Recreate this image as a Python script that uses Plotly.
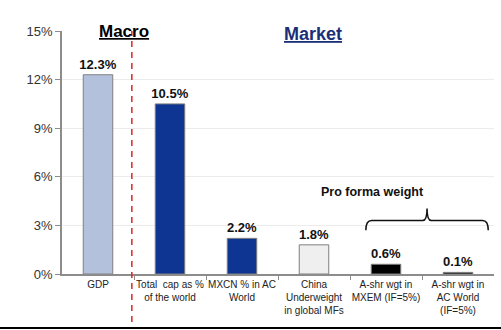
import plotly.graph_objects as go

categories = ["GDP", "Total  cap as %<br>of the world", "MXCN % in AC<br>World",
              "China<br>Underweight<br>in global MFs", "A-shr wgt in<br>MXEM (IF=5%)",
              "A-shr wgt in<br>AC World<br>(IF=5%)"]
values = [12.3, 10.5, 2.2, 1.8, 0.6, 0.1]
value_labels = ["12.3%", "10.5%", "2.2%", "1.8%", "0.6%", "0.1%"]
bar_colors = ["#b3c1dd", "#0e3591", "#0e3591", "#efefef", "#000000", "#000000"]
y_ticks = [0, 3, 6, 9, 12, 15]
y_tick_labels = ["0%", "3%", "6%", "9%", "12%", "15%"]

FONT = "Liberation Sans, Arial, sans-serif"
xpos = list(range(len(categories)))

fig = go.Figure()
fig.add_trace(go.Bar(
    x=xpos, y=values, width=0.41,
    marker=dict(color=bar_colors, line=dict(color="#7f7f7f", width=1)),
    text=value_labels, textposition="outside", cliponaxis=False, constraintext="none",
    textfont=dict(family=FONT, size=13, color="#111111", weight="bold"),
    hoverinfo="skip",
))

shapes = []
# red dashed divider
shapes.append(dict(type="line", xref="x", yref="paper", x0=0.47, x1=0.47, y0=-0.198, y1=1.0,
                   line=dict(color="#d62728", width=1.5, dash="6px,5px")))
# bottom black rule
shapes.append(dict(type="line", xref="paper", yref="paper", x0=-0.15, x1=1.02, y0=-0.222, y1=-0.222,
                   line=dict(color="#000000", width=2)))
# brace (data coords)
xl, xr, xm = 3.72, 5.42, 4.57
yb, yl, yt = 2.7, 3.3, 4.05
path = (f"M {xl},{yb} Q {xl},{yl} {xl+0.08},{yl} L {xm-0.06},{yl} "
        f"Q {xm},{yl} {xm},{yt} Q {xm},{yl} {xm+0.06},{yl} L {xr-0.08},{yl} Q {xr},{yl} {xr},{yb}")
shapes.append(dict(type="path", xref="x", yref="y", path=path, line=dict(color="#111111", width=1.5)))

annotations = [
    dict(text="<b><u>Macro</u></b>", xref="paper", yref="paper", x=(97-62)/432, y=(274-20)/243,
         showarrow=False, font=dict(family=FONT, size=17, color="#000000")),
    dict(text="<b><u>Market</u></b>", xref="paper", yref="paper", x=(313-62)/432, y=(274-22)/243,
         showarrow=False, font=dict(family=FONT, size=18, color="#1b2f78")),
    dict(text="<b>Pro forma weight</b>", xref="paper", yref="paper", x=(426-62)/432, y=(274-192)/243,
         showarrow=False, font=dict(family=FONT, size=12.5, color="#111111")),
]

fig.update_layout(
    width=501, height=330,
    margin=dict(l=62, r=7, t=31, b=56),
    paper_bgcolor="white", plot_bgcolor="white",
    showlegend=False,
    shapes=shapes, annotations=annotations,
    xaxis=dict(range=[-0.5, 5.5], tickvals=xpos, ticktext=categories, ticks="",
               showgrid=False, zeroline=False, showline=True, linecolor="#8c8c8c", linewidth=2,
               tickfont=dict(family=FONT, size=10, color="#222222"), tickangle=0,
               minor=dict(tickvals=[0.5, 1.5, 2.5, 3.5, 4.5], ticks="outside", ticklen=4,
                          tickcolor="#8c8c8c", showgrid=False)),
    yaxis=dict(range=[0, 15], tickvals=y_ticks, ticktext=y_tick_labels, ticks="outside",
               ticklen=5, tickcolor="#8c8c8c", showgrid=True, gridcolor="#ececec",
               zeroline=False, showline=True, linecolor="#8c8c8c", linewidth=1.5,
               tickfont=dict(family=FONT, size=13, color="#333333")),
)

fig.write_html("out.html")
